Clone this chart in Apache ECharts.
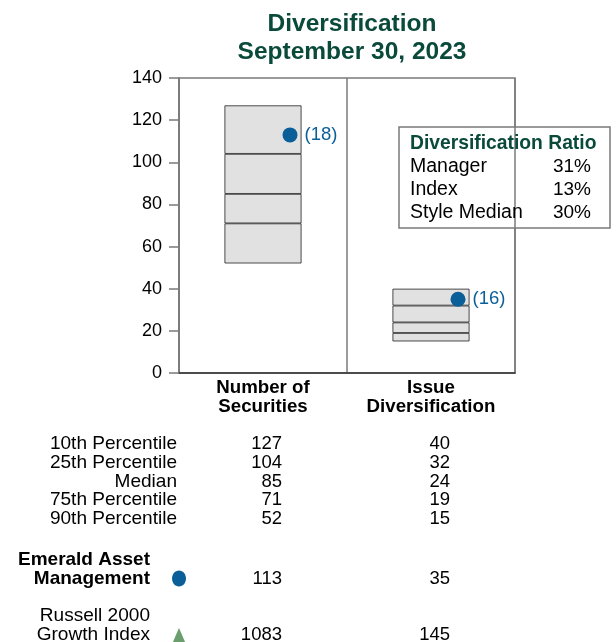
<!DOCTYPE html>
<html>
<head>
<meta charset="utf-8">
<script src="https://cdn.jsdelivr.net/npm/echarts@6/dist/echarts.min.js"></script>
<style>
  html, body { margin: 0; padding: 0; background: #fff; }
  #chart { width: 616px; height: 642px; }
</style>
</head>
<body>
<div id="chart"></div>
<script>
// ---- data ----
var categories = ['Number of\nSecurities', 'Issue\nDiversification'];
var p10 = [127, 40];
var p25 = [104, 32];
var median = [85, 24];
var p75 = [71, 19];
var p90 = [52, 15];
var manager = [113, 35];
var managerRank = ['(18)', '(16)'];
var indexVals = [1083, 145];
var rowLabels = ['10th Percentile', '25th Percentile', 'Median', '75th Percentile', '90th Percentile'];
var yTicks = [0, 20, 40, 60, 80, 100, 120, 140];
var ratioLabels = ['Manager', 'Index', 'Style Median'];
var ratioValues = ['31%', '13%', '30%'];

// ---- style ----
var FONT = '"Liberation Sans", Arial, Helvetica, sans-serif';
var GREEN = '#0a4a3b';
var BLUE = '#0b5f98';
var TRI = '#6a9e6c';
var FRAME = '#7a7a7a';

var chart = echarts.init(document.getElementById('chart'));

function diff(a, b) { return a.map(function (v, i) { return v - b[i]; }); }
var segStyle = { color: '#e1e1e1', borderColor: '#222', borderWidth: 0.8 };

function seg(name, data) {
  return {
    name: name, type: 'bar', stack: 'box', barWidth: 77, data: data,
    itemStyle: segStyle, silent: true, z: 2
  };
}

function txt(x, y, s, opts) {
  opts = opts || {};
  var bold = !!opts.bold;
  return {
    type: 'text', x: x, y: y, scaleX: opts.sx || 1, z: opts.z || 10,
    style: {
      text: s, font: (bold ? 'bold ' : '') + (opts.size || 18.5) + 'px ' + FONT,
      fill: opts.color || '#000', textAlign: opts.align || 'right', textVerticalAlign: 'middle'
    }
  };
}

// table layout
var colX = [282, 450];
var rowY = [444, 463, 481.5, 500, 519];
var labelRight = 177;
var graphics = [];

// diversification ratio box
var boxChildren = [
  { type: 'rect', shape: { x: 0, y: 0, width: 211, height: 101 },
    style: { fill: '#fff', stroke: FRAME, lineWidth: 1.5 } },
  txt(11, 17, 'Diversification Ratio', { bold: true, size: 19.3, color: GREEN, align: 'left' })
];
ratioLabels.forEach(function (l, i) {
  boxChildren.push(txt(11, 40 + i * 23, l, { align: 'left', size: 19.5 }));
  boxChildren.push(txt(192, 40 + i * 23, ratioValues[i], { size: 19 }));
});
graphics.push({ type: 'group', x: 399, y: 127, z: 100, children: boxChildren });

// percentile table
var pcts = [p10, p25, median, p75, p90];
rowLabels.forEach(function (l, i) {
  graphics.push(txt(labelRight, rowY[i], l, { sx: 1.03 }));
  pcts[i].forEach(function (v, j) {
    graphics.push(txt(colX[j], rowY[i], String(v)));
  });
});

// manager row
graphics.push(txt(150, 560, 'Emerald Asset', { bold: true, size: 19 }));
graphics.push(txt(150, 578.5, 'Management', { bold: true, size: 19 }));
graphics.push({ type: 'ellipse', shape: { cx: 179, cy: 578.5, rx: 7, ry: 8 }, style: { fill: BLUE } });
manager.forEach(function (v, j) {
  graphics.push(txt(colX[j], 578.5, String(v)));
});

// index row
graphics.push(txt(150, 616, 'Russell 2000', { sx: 1.03 }));
graphics.push(txt(150, 635, 'Growth Index', { sx: 1.03 }));
graphics.push({ type: 'polygon', shape: { points: [[179, 628], [172.5, 643], [185.5, 643]] }, style: { fill: TRI } });
indexVals.forEach(function (v, j) {
  graphics.push(txt(colX[j], 635, String(v)));
});

var option = {
  animation: false,
  backgroundColor: '#fff',
  title: {
    text: 'Diversification\nSeptember 30, 2023',
    left: 347, top: 5, textAlign: 'center',
    textStyle: { fontFamily: FONT, fontSize: 24.5, fontWeight: 'bold', color: GREEN, lineHeight: 28 }
  },
  grid: { left: 179, top: 78, width: 336, height: 295, show: true, borderColor: FRAME, borderWidth: 1.5, backgroundColor: 'transparent' },
  xAxis: {
    type: 'category', data: categories,
    axisLine: { lineStyle: { color: '#333', width: 1.5 } },
    axisTick: { show: false },
    axisLabel: { fontFamily: FONT, fontSize: 18.7, fontWeight: 'bold', color: '#000', lineHeight: 19, margin: 5 },
    splitLine: { show: true, lineStyle: { color: FRAME, width: 1.5 } }
  },
  yAxis: {
    type: 'value', min: 0, max: 140, interval: 20,
    axisLine: { show: true, lineStyle: { color: FRAME, width: 1.5 } },
    axisTick: { show: true, length: 10, lineStyle: { color: FRAME, width: 1.5 } },
    axisLabel: { fontFamily: FONT, fontSize: 18, color: '#000', margin: 17,
      formatter: function (v) { return yTicks.indexOf(v) >= 0 ? String(v) : ''; } },
    splitLine: { show: false }
  },
  series: [
    { name: 'base', type: 'bar', stack: 'box', barWidth: 77, data: p90, itemStyle: { color: 'transparent' }, silent: true },
    seg('p90-p75', diff(p75, p90)),
    seg('p75-med', diff(median, p75)),
    seg('med-p25', diff(p25, median)),
    seg('p25-p10', diff(p10, p25)),
    {
      name: 'Emerald Asset Management', type: 'scatter', data: manager,
      symbol: 'circle', symbolSize: 15, symbolOffset: [27, 0], z: 5,
      itemStyle: { color: BLUE, opacity: 1 },
      label: { show: true, position: 'right', distance: 7, fontFamily: FONT, fontSize: 18.5, color: BLUE,
        formatter: function (p) { return managerRank[p.dataIndex]; } }
    }
  ],
  graphic: graphics
};
chart.setOption(option);
</script>
</body>
</html>
